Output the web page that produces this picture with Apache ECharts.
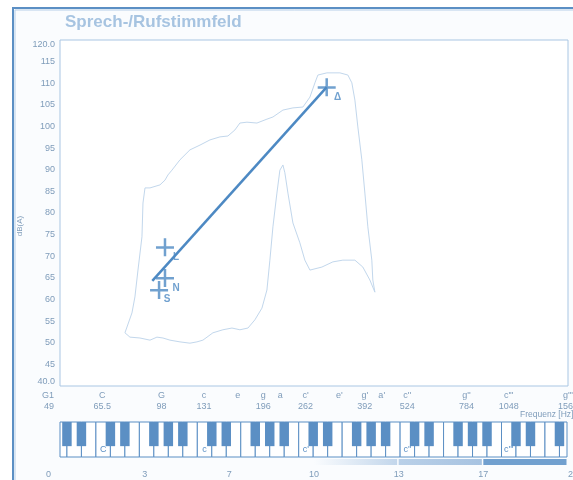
<!DOCTYPE html>
<html><head><meta charset="utf-8">
<script src="https://cdn.jsdelivr.net/npm/echarts@6/dist/echarts.min.js"></script>
<style>html,body{margin:0;padding:0;background:#fff}#c{width:573px;height:480px}</style>
</head><body><div id="c"></div>
<script>
// ---- data (x values are semitones above G1 = 49 Hz) ----
const noteNames = ['G1','C','G','c','e','g','a',"c'","e'","g'","a'","c''","g''","c'''","g'''"];
const noteSemitones = [0,5,12,17,21,24,26,29,33,36,38,41,48,53,60];
const noteHz = ['49','65.5','98','131','','196','','262','','392','','524','784','1048','1568'];
const dbMin = 40, dbMax = 120, dbStep = 5;
const rangeLabels = ['0','3','7','10','13','17','20'];
const keyLabels = ['C','c',"c'","c''","c'''"];

// voice range profile contour [semitone, dB(A)]
const contour = [
 [7.67,52.3],[8.50,56.9],[8.85,60.6],[9.21,66.8],[9.68,74.5],[9.80,82.3],[10.04,85.8],[10.63,85.8],
 [11.81,86.5],[12.40,87.6],[12.75,88.8],[13.22,89.9],[14.17,92.3],[15.35,94.6],[16.53,95.7],[17.71,96.9],
 [18.89,97.6],[19.83,97.8],[20.66,99.2],[21.25,100.8],[22.08,101.0],[23.26,100.8],[24.44,101.7],[25.15,102.2],
 [26.33,103.8],[27.51,104.3],[28.69,104.5],[29.52,106.8],[30.11,110.1],[30.46,111.9],[31.52,112.4],[33.06,112.4],
 [34.00,111.9],[34.47,110.1],[34.83,106.1],[35.18,99.9],[35.65,92.3],[36.01,84.6],[36.36,76.8],[36.83,69.1],
 [36.95,64.5],[37.19,61.7],[36.60,64.5],[35.77,67.5],[34.83,69.1],[33.41,69.1],[32.23,68.7],[30.93,67.5],
 [29.52,66.8],[28.92,69.1],[28.33,73.1],[27.51,77.7],[26.92,84.6],[26.56,89.3],[26.33,91.1],[25.97,89.9],
 [25.62,84.6],[25.15,76.8],[24.79,69.1],[24.44,62.2],[23.85,58.0],[23.02,55.3],[22.20,53.4],[21.25,53.0],
 [20.31,53.4],[19.24,53.0],[18.06,52.3],[16.88,50.6],[16.17,50.2],[15.35,49.9],[14.17,50.2],[12.99,50.6],
 [12.16,51.1],[11.45,51.3],[10.63,50.6],[9.44,51.1],[8.26,51.3],[7.67,52.3]
];
const pointNames = ['L','N','S','\u0394'];
const pointSemitones = [12.4,12.4,11.7,31.5];
const pointDb = [72.1,65.0,62.2,109.1];
const trendLine = [[10.9,64.3],[31.5,109.1]];

// ---- keyboard layout (decorative) ----
const cStart = 4.25, whiteW = 12/7, blackW = 1.12, blackDepth = 0.69;
const whiteKeys = [], blackKeys = [], keyLabelPos = [];
for (let k = -3; k <= 32; k++) {
  const s0 = cStart + k*whiteW;
  whiteKeys.push([s0, s0 + whiteW]);
  const m = ((k % 7) + 7) % 7;
  if ([0,1,3,4,5].includes(m)) {
    const b = s0 + whiteW;
    blackKeys.push([b - blackW/2, b + blackW/2]);
  }
  if (m === 0) keyLabelPos.push(s0 + whiteW/2);
}

const blue = '#4d89c3', keyBlue = '#5b8fc4', labelCol = '#7f9cba';
const chart = echarts.init(document.getElementById('c'), null, {renderer:'canvas'});

function keyRender(isBlack) {
  return function(params, api) {
    const a = api.value(0), b = api.value(1);
    const p0 = api.coord([a, 1]);
    const p1 = api.coord([b, isBlack ? 1 - blackDepth : 0]);
    const cs = params.coordSys;
    const r = echarts.graphic.clipRectByRect(
      {x: p0[0], y: p0[1], width: p1[0]-p0[0], height: p1[1]-p0[1]},
      {x: cs.x, y: cs.y, width: cs.width, height: cs.height});
    if (!r) return;
    return {type:'rect', shape: r, style: isBlack ? {fill: keyBlue} : {fill:'#fff', stroke: keyBlue, lineWidth: 1}};
  };
}

const segColors = [
  new echarts.graphic.LinearGradient(0,0,1,0,[{offset:0,color:'#fafcfe'},{offset:1,color:'#c2d6eb'}]),
  new echarts.graphic.LinearGradient(0,0,1,0,[{offset:0,color:'#b9d0e8'},{offset:1,color:'#a7c3e1'}]),
  '#71a0cf'
];

const option = {
  backgroundColor: '#fafcfe',
  animation: false,
  textStyle: {fontFamily: 'Liberation Sans, Arial, sans-serif'},
  graphic: [
    {type:'rect', shape:{x:0,y:0,width:573,height:7}, style:{fill:'#fff'}, silent:true},
    {type:'rect', shape:{x:0,y:0,width:12,height:480}, style:{fill:'#fff'}, silent:true},
    {type:'rect', shape:{x:13,y:8,width:620,height:520}, style:{fill:null, stroke:'#5b8fc4', lineWidth:2}, silent:true},
    {type:'rect', shape:{x:15,y:10,width:620,height:520}, style:{fill:null, stroke:'#b5cee7', lineWidth:1}, silent:true},
    {type:'text', left:65, top:14, style:{text:'Sprech-/Rufstimmfeld', font:'bold 17px Liberation Sans, Arial, sans-serif', fill:'#a7c4e1'}},
    {type:'text', x:20, y:226, rotation: Math.PI/2, style:{text:'dB(A)', font:'8px Liberation Sans, Arial, sans-serif', fill:labelCol, align:'center', verticalAlign:'middle'}},
    {type:'text', x:520, y:415, style:{text:'Frequenz [Hz]', font:'8.5px Liberation Sans, Arial, sans-serif', fill:labelCol, align:'left', verticalAlign:'middle'}}
  ],
  grid: [
    {left:60, right:5, top:40, bottom:94, show:true, backgroundColor:'#fff', borderColor:'#a9c6e3', borderWidth:1, outerBoundsMode:'none', containLabel:false},
    {left:60, right:6, top:422, height:35, outerBoundsMode:'none', containLabel:false},
    {left:60, right:5, top:459, height:6, outerBoundsMode:'none', containLabel:false}
  ],
  xAxis: [
    {gridIndex:0, type:'value', min:0, max:60,
     axisLine:{show:false}, axisTick:{show:false}, splitLine:{show:false},
     axisLabel:{customValues: noteSemitones, showMinLabel:true, showMaxLabel:true, hideOverlap:false,
       margin:4, fontSize:9, lineHeight:11, color:labelCol, alignMinLabel:'right',
       formatter: function(v){ const i = noteSemitones.indexOf(v); if (i<0) return '';
         if (i===0) return '{m|'+noteNames[i]+'}\n{m|'+noteHz[i]+'}';
         return noteNames[i] + '\n' + noteHz[i]; },
       rich:{m:{fontSize:9, lineHeight:11, color:labelCol, padding:[0,6,0,0]}}}},
    {gridIndex:1, type:'value', min:0, max:60, show:false},
    {gridIndex:2, type:'value', min:0, max:6, interval:1,
     axisLine:{show:false}, axisTick:{show:false}, splitLine:{show:false},
     axisLabel:{fontSize:9, color:labelCol, margin:5, showMinLabel:true, showMaxLabel:true,
       alignMinLabel:'right', alignMaxLabel:'left',
       formatter:function(v,i){ const t = rangeLabels[Math.round(v)]; return v===0 ? '{m|'+t+'}' : t; },
       rich:{m:{fontSize:9, color:labelCol, padding:[0,9,0,0]}}}}
  ],
  yAxis: [
    {gridIndex:0, type:'value', min:dbMin, max:dbMax, interval:dbStep,
     axisLine:{show:false}, axisTick:{show:false}, splitLine:{show:false},
     axisLabel:{fontSize:9, color:labelCol, margin:5, showMinLabel:true, showMaxLabel:true,
       verticalAlignMaxLabel:'top', verticalAlignMinLabel:'bottom',
       formatter:function(v){ return (v===dbMin||v===dbMax) ? v.toFixed(1) : String(v); }}},
    {gridIndex:1, type:'value', min:0, max:1, show:false},
    {gridIndex:2, type:'value', min:0, max:1, show:false}
  ],
  series: [
    {type:'line', xAxisIndex:0, yAxisIndex:0, data:contour, symbol:'none', smooth:false,
     lineStyle:{color:'#c2d7ec', width:1}, z:2},
    {type:'line', xAxisIndex:0, yAxisIndex:0, data:trendLine, symbol:'none',
     lineStyle:{color:blue, width:2.5}, z:3},
    {type:'scatter', xAxisIndex:0, yAxisIndex:0, z:4,
     symbol:'path://M0,8H18V10.5H0ZM7.75,0H10.25V18H7.75Z', symbolSize:18,
     itemStyle:{color:blue},
     data: pointNames.map((n,i)=>({name:n, value:[pointSemitones[i], pointDb[i]],
       label:{position: i===2 ? [17,18] : [20,19]}})),
     label:{show:true, formatter:'{b}', fontSize:10, fontWeight:'bold', color:blue, align:'center', verticalAlign:'middle'}},
    {type:'custom', xAxisIndex:1, yAxisIndex:1, data:whiteKeys, renderItem:keyRender(false), z:2},
    {type:'custom', xAxisIndex:1, yAxisIndex:1, data:blackKeys, renderItem:keyRender(true), z:3},
    {type:'custom', xAxisIndex:1, yAxisIndex:1, data:keyLabelPos.map(v=>[v]), z:4,
     renderItem:function(params, api){ const p = api.coord([api.value(0), 0.22]);
       return {type:'text', x:p[0], y:p[1], style:{text:keyLabels[params.dataIndex], font:'9px Liberation Sans, Arial, sans-serif', fill:keyBlue, align:'center', verticalAlign:'middle'}}; }},
    {type:'custom', xAxisIndex:2, yAxisIndex:2, data:[[3,4],[4,5],[5,6]], z:2,
     renderItem:function(params, api){ const p0 = api.coord([api.value(0),1]); const p1 = api.coord([api.value(1),0]);
       return {type:'rect', shape:{x:p0[0], y:p0[1], width:p1[0]-p0[0]-1.5, height:p1[1]-p0[1]}, style:{fill:segColors[params.dataIndex]}}; }}
  ]
};
chart.setOption(option);
</script></body></html>
